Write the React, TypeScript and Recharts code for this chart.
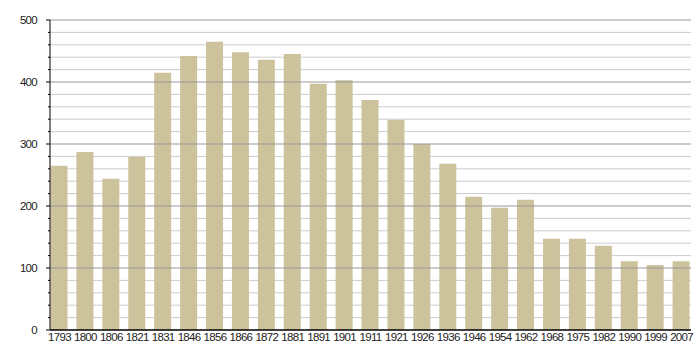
import { BarChart, Bar, XAxis, YAxis, CartesianGrid, ReferenceLine } from 'recharts'

const years = [
  '1793', '1800', '1806', '1821', '1831', '1846', '1856', '1866', '1872', '1881',
  '1891', '1901', '1911', '1921', '1926', '1936', '1946', '1954', '1962', '1968',
  '1975', '1982', '1990', '1999', '2007',
]
const population = [
  265, 287, 244, 279, 415, 442, 465, 448, 436, 445,
  397, 403, 371, 339, 300, 268, 215, 197, 210, 147,
  147, 136, 111, 105, 111,
]
const majorTicks = [100, 200, 300, 400, 500]
const allTicks = [
  0, 20, 40, 60, 80, 100, 120, 140, 160, 180, 200, 220, 240, 260, 280,
  300, 320, 340, 360, 380, 400, 420, 440, 460, 480, 500,
]

const data = years.map((year, i) => ({ year, value: population[i] }))

const font = 'Liberation Sans, Arial, sans-serif'
const xTick = { fontSize: 11.5, fill: '#222', fontFamily: font, letterSpacing: -0.7 }

const TICK_SIZE = 4
const TICK_MARGIN = 9

// label only on hundreds, short tick on every 20
function YTick(props: any) {
  const { x, y, payload } = props
  const edge = x + TICK_SIZE + TICK_MARGIN
  const major = payload.value % 100 === 0
  return (
    <g>
      <line x1={edge - (major ? 4 : 2)} x2={edge} y1={y} y2={y} stroke="#000" />
      {major && (
        <text
          x={x}
          y={y}
          dy="0.355em"
          textAnchor="end"
          fontSize={11.5}
          fill="#222"
          fontFamily={font}
          letterSpacing={-0.7}
        >
          {payload.value}
        </text>
      )}
    </g>
  )
}

export default function App() {
  return (
    <div style={{ position: 'absolute', left: 0, top: 0, width: 700, height: 360, background: '#fff' }}>
      <BarChart
        width={700}
        height={360}
        data={data}
        margin={{ top: 20, right: 9, bottom: 0, left: 0 }}
      >
        <CartesianGrid
          yAxisId="y"
          vertical={false}
          horizontalValues={allTicks.filter((v) => v % 100 !== 0)}
          stroke="#cccccc"
        />
        {majorTicks.map((v) => (
          <ReferenceLine key={v} y={v} yAxisId="y" stroke="#999999" />
        ))}
        <XAxis
          dataKey="year"
          height={30}
          tickLine={false}
          tickSize={0}
          tickMargin={3}
          interval={0}
          padding={{ left: -3.5, right: -3.5 }}
          axisLine={{ stroke: '#000', strokeWidth: 1.5 }}
          tick={xTick}
        />
        <YAxis
          yAxisId="y"
          width={50}
          domain={[0, 500]}
          ticks={allTicks}
          interval={0}
          tickSize={TICK_SIZE}
          tickMargin={TICK_MARGIN}
          tick={YTick}
          tickLine={false}
          axisLine={{ stroke: '#000' }}
        />
        <Bar dataKey="value" yAxisId="y" fill="#CCC29C" barSize={17} isAnimationActive={false} />
      </BarChart>
    </div>
  )
}
